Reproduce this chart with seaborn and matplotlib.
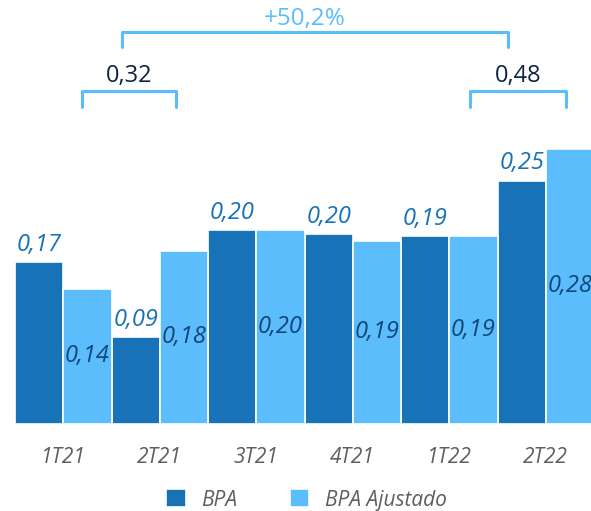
import matplotlib
matplotlib.use("Agg")
import matplotlib.pyplot as plt
import numpy as np
import pandas as pd
import seaborn as sns

# dados
trimestres = ["1T21", "2T21", "3T21", "4T21", "1T22", "2T22"]
bpa = [0.168, 0.090, 0.201, 0.197, 0.195, 0.253]
bpa_ajustado = [0.140, 0.180, 0.201, 0.190, 0.195, 0.286]
rot_bpa = ["0,17", "0,09", "0,20", "0,20", "0,19", "0,25"]
rot_ajustado = ["0,14", "0,18", "0,20", "0,19", "0,19", "0,28"]
series = ["BPA", "BPA Ajustado"]

semestre_labels = ["0,32", "0,48"]
variacao_label = "+50,2%"

AZUL = "#1872b7"
AZUL_CLARO = "#5bbdfc"
NAVY_ROT = "#12467a"
NAVY = "#0d2444"
CINZA = "#5e5e5e"

sns.set_theme(style="white")
plt.rcParams["font.family"] = ["Open Sans", "DejaVu Sans"]

df = pd.DataFrame({
    "trimestre": trimestres * 2,
    "valor": bpa + bpa_ajustado,
    "serie": [series[0]] * len(trimestres) + [series[1]] * len(trimestres),
})

fig = plt.figure(figsize=(5.91, 5.11), dpi=100)
ax = fig.add_axes([15 / 591, (511 - 423.5) / 511, 579 / 591, 423.5 / 511])

sns.barplot(data=df, x="trimestre", y="valor", hue="serie", ax=ax,
            palette=[AZUL, AZUL_CLARO], saturation=1, width=1.0, edgecolor="white",
            linewidth=1.2, errorbar=None)

ax.set_xlim(-0.5, 5.5)
ax.set_ylim(0, 0.441)
ax.set_xlabel("")
ax.set_ylabel("")
ax.set_yticks([])
for s in ax.spines.values():
    s.set_visible(False)
ax.tick_params(axis="x", length=0, pad=17)
for t in ax.get_xticklabels():
    t.set_fontsize(15)
    t.set_style("italic")
    t.set_color(CINZA)

# rótulos das barras
for i in range(len(trimestres)):
    ax.annotate(rot_bpa[i], (i - 0.25, bpa[i]), xytext=(0, 4), textcoords="offset points",
                ha="center", va="bottom", fontsize=17, style="italic", weight="medium", color=AZUL)
    ax.text(i + 0.25, bpa_ajustado[i] / 2, rot_ajustado[i], ha="center", va="center",
            fontsize=17, style="italic", weight="medium", color=NAVY_ROT)

# chaves dos semestres
def chave(x0, x1, y, h, cor=AZUL_CLARO):
    ax.plot([x0, x0, x1, x1], [y - h, y, y, y - h], color=cor, lw=2.2,
            clip_on=False, solid_joinstyle="round")

chave(0.19, 1.17, 0.346, 0.016)
chave(4.21, 5.21, 0.346, 0.016)
chave(0.61, 4.61, 0.408, 0.016)
ax.text(0.68, 0.362, semestre_labels[0], ha="center", va="center", fontsize=17,
        weight="medium", color=NAVY, clip_on=False)
ax.text(4.71, 0.362, semestre_labels[1], ha="center", va="center", fontsize=17,
        weight="medium", color=NAVY, clip_on=False)
ax.text(2.5, 0.421, variacao_label, ha="center", va="center", fontsize=17.5,
        weight="medium", color=AZUL_CLARO, clip_on=False)

handles, labels = ax.get_legend_handles_labels()
ax.get_legend().remove()
leg = fig.legend(handles, labels, loc="center", bbox_to_anchor=(306.5 / 591, 11 / 511),
                 ncol=2, frameon=False, fontsize=15, handlelength=0.95, handleheight=0.95,
                 handletextpad=0.75, columnspacing=2.5)
for t in leg.get_texts():
    t.set_style("italic")
    t.set_color(CINZA)

fig.savefig("out.png", dpi=100)
plt.close(fig)
